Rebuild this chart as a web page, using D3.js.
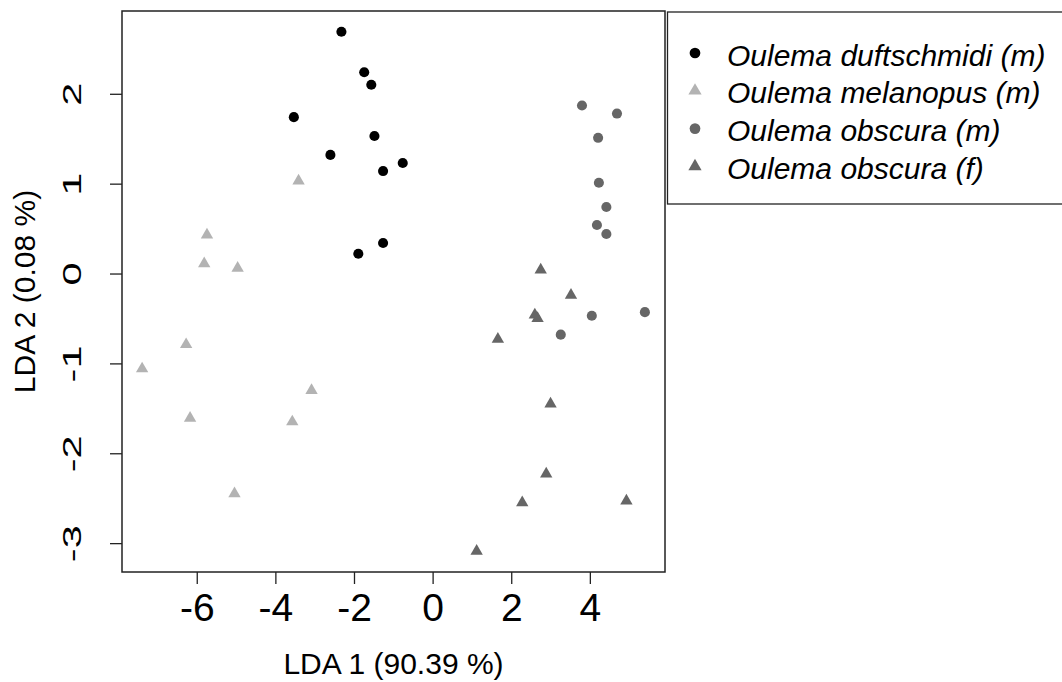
<!DOCTYPE html>
<html>
<head>
<meta charset="utf-8">
<title>LDA Oulema</title>
<style>
body { margin: 0; background: #fff; }
svg { display: block; font-family: "Liberation Sans", Arial, sans-serif; }
</style>
</head>
<body>
<div id="chart"></div>
<script src="https://d3js.org/d3.v7.min.js"></script>
<script>

// Data
var species = ["Oulema duftschmidi (m)", "Oulema melanopus (m)", "Oulema obscura (m)", "Oulema obscura (f)"];

var duftschmidiX = [-2.32, -1.74, -1.56, -3.53, -1.48, -2.60, -0.76, -1.26, -1.26, -1.89];
var duftschmidiY = [2.69, 2.24, 2.10, 1.74, 1.53, 1.32, 1.23, 1.14, 0.34, 0.22];

var melanopusX = [-3.41, -5.74, -5.81, -4.96, -6.27, -7.39, -3.08, -6.17, -3.57, -5.04];
var melanopusY = [1.03, 0.43, 0.11, 0.06, -0.79, -1.06, -1.30, -1.61, -1.65, -2.45];

var obscuraMX = [3.80, 4.69, 4.21, 4.23, 4.42, 4.18, 4.42, 4.05, 5.40, 3.26];
var obscuraMY = [1.87, 1.78, 1.51, 1.01, 0.74, 0.54, 0.44, -0.47, -0.43, -0.68];

var obscuraFX = [2.75, 3.52, 2.60, 2.67, 1.66, 3.00, 2.89, 2.28, 4.93, 1.12];
var obscuraFY = [0.04, -0.24, -0.46, -0.50, -0.73, -1.45, -2.23, -2.55, -2.53, -3.09];

var xTicks = [-6, -4, -2, 0, 2, 4];
var yTicks = [-3, -2, -1, 0, 1, 2];

var xTitle = "LDA 1 (90.39 %)";
var yTitle = "LDA 2 (0.08 %)";

// style per group: colour and symbol
var colours = ["#000000", "#b3b3b3", "#666666", "#666666"];
var shapes = [d3.symbolCircle, d3.symbolTriangle, d3.symbolCircle, d3.symbolTriangle];
var sizes = [80, 66, 80, 66];

var groups = [
  {x: duftschmidiX, y: duftschmidiY},
  {x: melanopusX, y: melanopusY},
  {x: obscuraMX, y: obscuraMY},
  {x: obscuraFX, y: obscuraFY}
];

var points = [];
groups.forEach(function(g, i) {
  g.x.forEach(function(v, j) {
    points.push({x: v, y: g.y[j], group: i});
  });
});

var W = 1062, H = 682;
var plot = {left: 122, right: 665, top: 11, bottom: 572};

// plain hyphen for negatives, like R
function fmt(d) { return String(d); }

// R style domain: data range extended by 4 %
function pad(ext) {
  var d = (ext[1] - ext[0]) * 0.04;
  return [ext[0] - d, ext[1] + d];
}

var x = d3.scaleLinear()
    .domain(pad(d3.extent(points, function(d) { return d.x; })))
    .range([plot.left, plot.right]);
var y = d3.scaleLinear()
    .domain(pad(d3.extent(points, function(d) { return d.y; })))
    .range([plot.bottom, plot.top]);

var svg = d3.select("#chart").append("svg")
    .attr("width", W)
    .attr("height", H);

// points
svg.append("g").selectAll("path")
    .data(points)
  .enter().append("path")
    .attr("transform", function(d) { return "translate(" + x(d.x) + "," + y(d.y) + ")"; })
    .attr("d", function(d) { return d3.symbol().type(shapes[d.group]).size(sizes[d.group])(); })
    .attr("fill", function(d) { return colours[d.group]; });

// box round the plot
svg.append("rect")
    .attr("x", plot.left)
    .attr("y", plot.top)
    .attr("width", plot.right - plot.left)
    .attr("height", plot.bottom - plot.top)
    .attr("fill", "none")
    .attr("stroke", "#222")
    .attr("stroke-width", 1.5);

// x axis
var xAxis = svg.append("g")
    .attr("transform", "translate(0," + plot.bottom + ")")
    .call(d3.axisBottom(x).tickValues(xTicks).tickSize(12).tickFormat(fmt));
xAxis.select(".domain").remove();
xAxis.selectAll("line").attr("stroke", "#222").attr("stroke-width", 1.3);
xAxis.selectAll("text")
    .attr("font-size", 39)
    .attr("fill", "#000")
    .attr("dy", null)
    .attr("y", 49);

// y axis, labels parallel to the axis
var yAxis = svg.append("g")
    .attr("transform", "translate(" + plot.left + ",0)")
    .call(d3.axisLeft(y).tickValues(yTicks).tickSize(12).tickFormat(fmt));
yAxis.select(".domain").remove();
yAxis.selectAll("line").attr("stroke", "#222").attr("stroke-width", 1.3);
yAxis.selectAll("text").remove();
yAxis.selectAll(".tick").append("text")
    .attr("transform", "translate(-41,0) scale(1,1.6) rotate(-90)")
    .attr("text-anchor", "middle")
    .attr("font-size", 26)
    .attr("fill", "#000")
    .text(fmt);

// axis titles
svg.append("text")
    .attr("x", (plot.left + plot.right) / 2)
    .attr("y", 674)
    .attr("text-anchor", "middle")
    .attr("font-size", 30)
    .text(xTitle);

svg.append("text")
    .attr("transform", "translate(35," + (plot.top + plot.bottom) / 2 + ") rotate(-90)")
    .attr("text-anchor", "middle")
    .attr("font-size", 30)
    .text(yTitle);

// legend
var legend = svg.append("g");
legend.append("rect")
    .attr("x", 667.5)
    .attr("y", 12)
    .attr("width", 420)
    .attr("height", 192)
    .attr("fill", "#fff")
    .attr("stroke", "#222")
    .attr("stroke-width", 1.3);

var rows = legend.selectAll(".row")
    .data(species)
  .enter().append("g")
    .attr("class", "row")
    .attr("transform", function(d, i) { return "translate(695," + (53 + i * 37.8) + ")"; });

rows.append("path")
    .attr("d", function(d, i) { return d3.symbol().type(shapes[i]).size(sizes[i] + 10)(); })
    .attr("fill", function(d, i) { return colours[i]; });

rows.append("text")
    .attr("x", 32)
    .attr("y", 12.5)
    .attr("font-size", 30)
    .attr("font-style", "italic")
    .text(function(d) { return d; });

</script>
</body>
</html>
